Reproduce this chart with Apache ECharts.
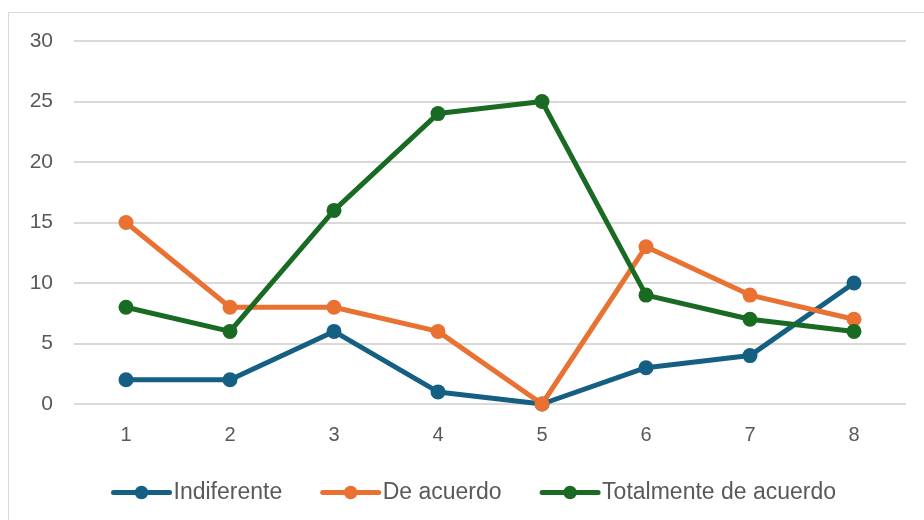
<!DOCTYPE html>
<html><head><meta charset="utf-8">
<script src="https://cdn.jsdelivr.net/npm/echarts@6/dist/echarts.min.js"></script>
<style>html,body{margin:0;padding:0;background:#fff}#c{width:924px;height:520px;position:relative}
#frame{position:absolute;left:8px;top:12px;width:930px;height:520px;border:1px solid #d9d9d9;box-sizing:border-box}</style>
</head><body><div id="frame"></div><div id="c"></div>
<script>
var categories = ['1','2','3','4','5','6','7','8'];
var indiferente = [2,2,6,1,0,3,4,10];
var deAcuerdo = [15,8,8,6,0,13,9,7];
var totalmente = [8,6,16,24,25,9,7,6];
var seriesNames = ['Indiferente','De acuerdo','Totalmente de acuerdo'];
var colors = ['#156082','#E97132','#196B24'];

var chart = echarts.init(document.getElementById('c'));
function mk(name, data, color){
  return {name:name,type:'line',data:data,symbol:'circle',symbolSize:15,
    lineStyle:{width:5,color:color,cap:'round',join:'round'},itemStyle:{color:color},emphasis:{disabled:true}};
}
chart.setOption({
  animation:false,
  color:colors,
  grid:{left:74,right:18,top:41,bottom:116},
  legend:{top:476,left:106,itemWidth:56,itemHeight:17,itemGap:38,
    lineStyle:{width:5,cap:'round'},
    textStyle:{fontFamily:'Liberation Sans',fontSize:23,color:'#595959',padding:[0,0,0,-1]},
    data:seriesNames},
  xAxis:{type:'category',data:categories,boundaryGap:true,
    axisLine:{show:false},axisTick:{show:false},
    axisLabel:{fontFamily:'Liberation Sans',fontSize:20,color:'#595959',margin:21}},
  yAxis:{type:'value',min:0,max:30,interval:5,
    axisLabel:{fontFamily:'Liberation Sans',fontSize:21,color:'#595959',margin:21},
    splitLine:{lineStyle:{color:'#d9d9d9',width:2}}},
  series:[mk(seriesNames[0],indiferente,colors[0]),mk(seriesNames[1],deAcuerdo,colors[1]),mk(seriesNames[2],totalmente,colors[2])]
});
</script></body></html>
